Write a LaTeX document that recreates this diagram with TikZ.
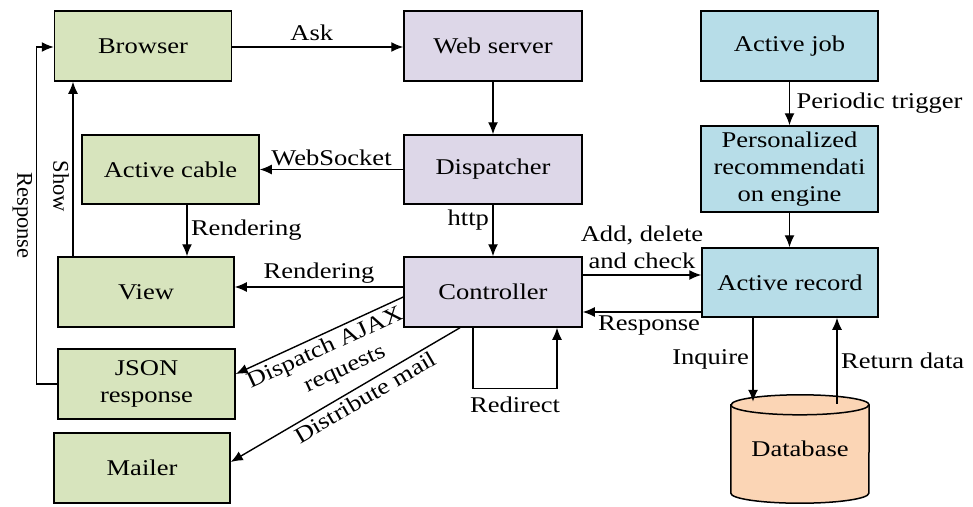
\documentclass[tikz,border=0pt]{standalone}
\usepackage{fontspec}
\setmainfont{Liberation Serif}[FakeStretch=1.18]
\newfontfamily\plainserif{Liberation Serif}
\usetikzlibrary{arrows.meta,backgrounds}

\definecolor{clientgreen}{RGB}{215,228,189}
\definecolor{serverpurple}{RGB}{221,215,232}
\definecolor{jobblue}{RGB}{183,221,232}
\definecolor{dborange}{RGB}{251,213,181}

\tikzset{
  box/.style={draw=black, line width=1.5pt, inner sep=0pt, align=center,
              minimum height=70pt},
  greenbox/.style={box, fill=clientgreen, minimum width=177pt},
  purplebox/.style={box, fill=serverpurple, minimum width=178pt},
  bluebox/.style={box, fill=jobblue, minimum width=177pt},
  dbbody/.style={inner sep=0pt, minimum width=138pt, minimum height=88pt},
  arr/.style={-{Latex[length=12pt,width=10pt]}, line width=1.4pt},
  vlabel/.style={font=\plainserif\fontsize{22.5}{27}\selectfont, rotate=-90, anchor=north},
}

\begin{document}
\begin{tikzpicture}[x=1pt, y=1pt, font=\fontsize{22.5}{27}\selectfont]
\useasboundingbox (0,0) rectangle (973,-506);

% request path
\node[greenbox] (browser) at (143,-46) {Browser};
\node[purplebox] (web) at (493,-46) {Web server};
\node[purplebox, minimum height=69pt] (dispatcher) at (493,-169.5) {Dispatcher};
\node[purplebox] (controller) at (493,-292) {Controller};

% client side outputs
\node[greenbox, minimum height=69pt] (cable) at (170.5,-169.5) {Active cable};
\node[greenbox, minimum width=176pt] (view) at (146,-292) {View};
\node[greenbox] (json) at (146.5,-384) {JSON\\response};
\node[greenbox, minimum width=176pt] (mailer) at (142,-468) {Mailer};

% background jobs and persistence
\node[bluebox] (job) at (789.5,-46) {Active job};
\node[bluebox, minimum height=86pt] (engine) at (789.5,-169) {Personalized\\recommendati\\on engine};
\node[bluebox, minimum width=176pt, minimum height=69pt] (record) at (790,-282.5) {Active record};
\node[dbbody] (db) at (800,-449) {Database};

\begin{scope}[on background layer]
  \path[fill=dborange, draw=black, line width=1.5pt]
    (db.north west) -- (db.south west)
    arc[start angle=180, end angle=360, x radius=69pt, y radius=10pt]
    -- (db.north east)
    arc[start angle=0, end angle=180, x radius=69pt, y radius=10pt] -- cycle;
  \draw[line width=1.5pt] (db.north west)
    arc[start angle=180, end angle=360, x radius=69pt, y radius=10pt];
\end{scope}

% connectors
\draw[arr] ([yshift=-1]browser.east) -- ([yshift=-1]web.west)
  node[midway, above, yshift=2, xshift=-6]{Ask};
\draw[arr] (web) -- (dispatcher);
\draw[arr] (dispatcher) -- (cable) node[midway, above]{WebSocket};
\draw[arr] (dispatcher) -- (controller) node[pos=0.3, left]{http};
\draw[arr] ([xshift=16.5]cable.south) -- ([xshift=16.5]cable.south |- view.north)
  node[midway, right]{Rendering};
\draw[arr] ([xshift=-73]view.north) -- ([xshift=-73]view.north |- browser.south)
  node[pos=0.4, vlabel]{Show};
\draw[arr] (json.west) -- ++(-21,0) |- ([yshift=-1]browser.west)
  node[pos=0.25, vlabel]{Response};

\draw[arr] ([yshift=5]controller.west) -- ([yshift=5]view.east)
  node[midway, above]{Rendering};
\draw[arr] ([yshift=-5]controller.west) -- ([yshift=10]json.east)
  node[midway, below, sloped, align=center]{Dispatch AJAX\\\hspace*{18pt}requests};
\draw[arr] ([xshift=-33]controller.south) -- ([yshift=6]mailer.east)
  node[pos=0.44, below, sloped]{Distribute mail};
\draw[arr] ([xshift=-20]controller.south) -- ++(0,-61) -| ([xshift=64]controller.south)
  node[pos=0.25, below, yshift=-4]{Redirect};

\draw[arr] ([yshift=17]controller.east) -- ([yshift=7.5]record.west)
  node[midway, above, align=center, yshift=2]{Add, delete\\and check};
\draw[arr] ([yshift=-29.5]record.west) -- ([yshift=-20]controller.east)
  node[pos=0.44, below]{Response};

\draw[arr] (job) -- (engine) node[midway, right, xshift=3]{Periodic trigger};
\draw[arr] (engine.south) -- (engine.south |- record.north);
\draw[arr] ([xshift=-37]record.south) -- ([xshift=-47,yshift=3]db.north)
  node[midway, left]{Inquire};
\draw[arr] ([xshift=37,yshift=1]db.north) -- ([xshift=47]record.south)
  node[midway, right]{Return data};
\end{tikzpicture}
\end{document}
